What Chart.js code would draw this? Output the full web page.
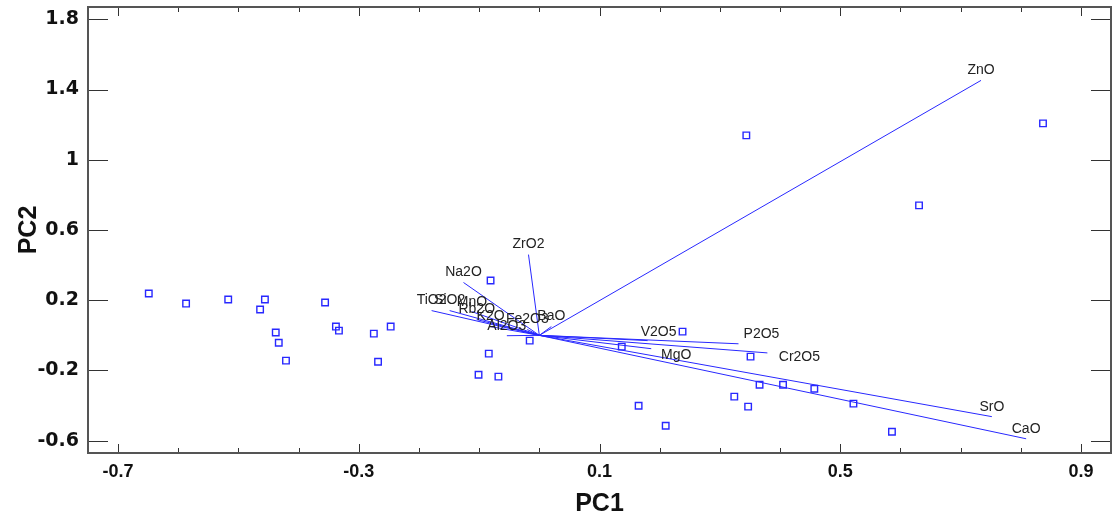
<!DOCTYPE html>
<html>
<head>
<meta charset="utf-8">
<script src="https://cdn.jsdelivr.net/npm/chart.js@4/dist/chart.umd.min.js"></script>
<style>
	html, body { margin: 0; padding: 0; background: #fff; }
	#wrap { width: 1112px; height: 520px; }
</style>
</head>
<body>
<div id="wrap"><canvas id="chart"></canvas></div>
<script>
// 主成分スコア（サンプル）
const pc1 = [-0.649, -0.587, -0.517, -0.456, -0.464, -0.356, -0.438, -0.433, -0.421, -0.338,
	-0.333, -0.275, -0.247, -0.268, -0.081, -0.016, -0.084, -0.101, -0.068, 0.137,
	0.238, 0.351, 0.366, 0.405, 0.457, 0.165, 0.210, 0.324, 0.347, 0.522,
	0.586, 0.344, 0.631, 0.837]
const pc2 = [0.238, 0.181, 0.204, 0.204, 0.147, 0.187, 0.016, -0.042, -0.144, 0.050,
	0.027, 0.010, 0.050, -0.150, 0.312, -0.030, -0.104, -0.224, -0.235, -0.064,
	0.021, -0.121, -0.281, -0.281, -0.304, -0.401, -0.515, -0.349, -0.406, -0.389,
	-0.549, 1.139, 0.740, 1.207]

// 負荷量（ベクトル）
const loadingNames = ['ZnO', 'SrO', 'CaO', 'ZrO2', 'Na2O', 'TiO2', 'SiO2', 'MnO', 'Rb2O',
	'K2O', 'Al2O3', 'Fe2O3', 'BaO', 'V2O5', 'MgO', 'P2O5', 'Cr2O5']
const loadingPC1 = [0.734, 0.752, 0.809, -0.018, -0.126, -0.179, -0.149, -0.112, -0.104,
	-0.081, -0.054, -0.020, 0.020, 0.180, 0.186, 0.331, 0.379]
const loadingPC2 = [1.452, -0.463, -0.589, 0.460, 0.301, 0.141, 0.141, 0.135, 0.090,
	0.050, -0.002, 0.033, 0.050, -0.030, -0.076, -0.048, -0.100]

// 目盛り
const xTicks = [-0.7, -0.3, 0.1, 0.5, 0.9]
const xMinorTicks = [-0.7, -0.6, -0.5, -0.4, -0.3, -0.2, -0.1, 0, 0.1, 0.2, 0.3, 0.4, 0.5, 0.6, 0.7, 0.8, 0.9]
const yTicks = [-0.6, -0.2, 0.2, 0.6, 1, 1.4, 1.8]

// ラベルのずらし量（px）
const labelShift = {
	'V2O5': [11, -8],
	'MgO': [25, 6],
	'P2O5': [23, -10],
	'Cr2O5': [32, 4]
}

const blue = 'rgb(40, 40, 255)'
const frameColor = '#555'

const isMajor = v => xTicks.some(t => Math.abs(t - v) < 1e-6)
const fmt = v => String(Math.round(v * 10) / 10)

const datasets = []
loadingNames.forEach((name, i) => {
	datasets.push({
		label: name,
		data: [{ x: 0, y: 0 }, { x: loadingPC1[i], y: loadingPC2[i] }],
		showLine: true,
		borderColor: blue,
		borderWidth: 1,
		pointRadius: 0,
		order: 2
	})
})
datasets.push({
	label: 'scores',
	data: pc1.map((x, i) => ({ x: x, y: pc2[i] })),
	pointStyle: 'rect',
	pointRadius: 4.6,
	pointBorderWidth: 1.4,
	pointBorderColor: blue,
	pointBackgroundColor: 'rgba(255,255,255,0)',
	order: 1
})

// 枠・内向き目盛り・ベクトル名
const biplotDeco = {
	id: 'biplotDeco',
	afterDraw(chart) {
		const ctx = chart.ctx
		const a = chart.chartArea
		const xs = chart.scales.x
		const ys = chart.scales.y
		ctx.save()
		ctx.strokeStyle = '#333'
		ctx.lineWidth = 1
		xMinorTicks.forEach(v => {
			const px = Math.round(xs.getPixelForValue(v)) + 0.5
			const len = isMajor(v) ? 9 : 5
			ctx.beginPath()
			ctx.moveTo(px, a.bottom); ctx.lineTo(px, a.bottom - len)
			ctx.moveTo(px, a.top); ctx.lineTo(px, a.top + len)
			ctx.stroke()
		})
		yTicks.forEach(v => {
			const py = Math.round(ys.getPixelForValue(v)) + 0.5
			ctx.beginPath()
			ctx.moveTo(a.left, py); ctx.lineTo(a.left + 20, py)
			ctx.moveTo(a.right, py); ctx.lineTo(a.right - 20, py)
			ctx.stroke()
		})
		ctx.strokeStyle = frameColor
		ctx.lineWidth = 2
		ctx.strokeRect(a.left, a.top, a.right - a.left, a.bottom - a.top)

		ctx.fillStyle = '#222'
		ctx.font = '14px "Liberation Sans", Arial, sans-serif'
		ctx.textAlign = 'center'
		ctx.textBaseline = 'middle'
		loadingNames.forEach((name, i) => {
			const sh = labelShift[name] || [0, -10]
			const px = xs.getPixelForValue(loadingPC1[i])
			const py = ys.getPixelForValue(loadingPC2[i])
			ctx.fillText(name, px + sh[0], py + sh[1])
		})
		ctx.restore()
	}
}

new Chart(document.getElementById('chart'), {
	type: 'scatter',
	data: { datasets: datasets },
	options: {
		responsive: true,
		maintainAspectRatio: false,
		animation: false,
		layout: { autoPadding: false, padding: { top: 7, right: 1, left: 0, bottom: 0 } },
		plugins: {
			legend: { display: false },
			tooltip: { enabled: false }
		},
		scales: {
			x: {
				type: 'linear',
				min: -0.75,
				max: 0.95,
				afterBuildTicks: scale => { scale.ticks = xMinorTicks.map(v => ({ value: v })) },
				afterFit: scale => {
					scale.height = 67
					scale.paddingLeft = 0
					scale.paddingRight = 0
				},
				grid: { display: false, drawTicks: false },
				border: { display: false },
				ticks: {
					autoSkip: false,
					maxRotation: 0,
					padding: 8,
					color: '#111',
					font: { family: '"Liberation Sans", Arial, sans-serif', size: 18, weight: 'bold' },
					callback: v => isMajor(v) ? fmt(v) : ''
				},
				title: {
					display: true,
					text: 'PC1',
					color: '#111',
					padding: { top: 0, bottom: 1 },
					font: { family: '"Liberation Sans", Arial, sans-serif', size: 25, weight: 'bold' }
				}
			},
			y: {
				type: 'linear',
				min: -0.67,
				max: 1.87,
				afterBuildTicks: scale => { scale.ticks = yTicks.map(v => ({ value: v })) },
				afterFit: scale => {
					scale.width = 88
					scale.paddingTop = 0
					scale.paddingBottom = 0
				},
				grid: { display: false, drawTicks: false },
				border: { display: false },
				ticks: {
					autoSkip: false,
					padding: 9,
					color: '#111',
					font: { family: '"DejaVu Sans", sans-serif', size: 19, weight: 'bold' },
					callback: v => fmt(v)
				},
				title: {
					display: true,
					text: 'PC2',
					color: '#111',
					padding: { top: 14, bottom: 0 },
					font: { family: '"Liberation Sans", Arial, sans-serif', size: 25, weight: 'bold' }
				}
			}
		}
	},
	plugins: [biplotDeco]
})
</script>
</body>
</html>
